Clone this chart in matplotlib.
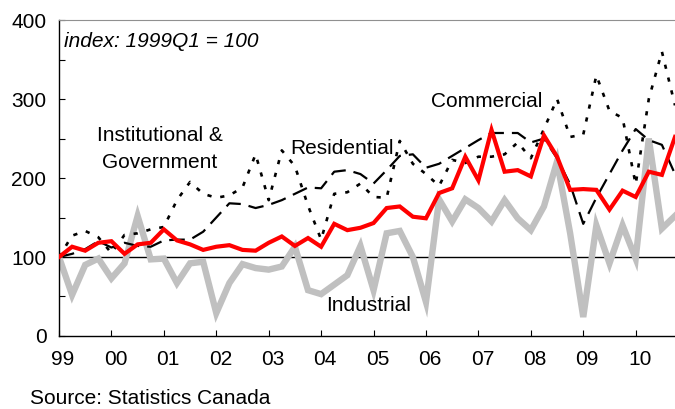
import matplotlib
matplotlib.use('Agg')
import matplotlib.pyplot as plt
import matplotlib.transforms as mtransforms
import numpy as np

plt.rcParams['font.family'] = ['Liberation Sans', 'DejaVu Sans']

# quarterly, 1999Q1 .. 2010Q4, index 1999Q1 = 100
years = ['99', '00', '01', '02', '03', '04', '05', '06', '07', '08', '09', '10']

total = [100, 113, 108, 118, 120, 104, 116, 118, 135, 121, 116, 109,
         113, 115, 109, 108, 118, 126, 114, 124, 113, 142, 134, 137,
         143, 162, 164, 151, 149, 181, 187, 227, 197, 261, 208, 210,
         202, 254, 227, 185, 186, 185, 160, 184, 176, 208, 204, 252]

industrial = [100, 52, 90, 98, 73, 92, 152, 97, 98, 67, 92, 94,
              29, 67, 91, 86, 84, 88, 113, 58, 53, 65, 77, 114,
              58, 130, 133, 100, 43, 173, 145, 173, 162, 145, 172, 149,
              134, 164, 221, 130, 24, 140, 92, 140, 98, 250, 136, 152]

institutional = [100, 127, 133, 125, 105, 128, 130, 135, 138, 172, 195, 180,
                 175, 178, 188, 230, 172, 235, 215, 165, 122, 180, 182, 193,
                 176, 175, 247, 218, 205, 190, 223, 219, 227, 227, 230, 245,
                 225, 262, 300, 252, 255, 330, 285, 276, 192, 300, 360, 292]

residential = [100, 104, 110, 120, 112, 118, 114, 113, 121, 122, 122, 132,
               150, 168, 167, 162, 166, 172, 180, 188, 187, 208, 210, 205,
               193, 210, 228, 230, 213, 218, 228, 238, 248, 257, 257, 257,
               245, 250, 225, 192, 142, 175, 205, 235, 262, 248, 242, 205]

x = np.arange(len(total))

fig = plt.figure(figsize=(6.75, 4.09), dpi=100)
ax = fig.add_axes([0.0874, 0.1785, 0.9126, 0.7725])

ax.axhline(100, color='black', lw=1.0, zorder=1)
ax.plot(x, industrial, color='#c0c0c0', lw=4.6, solid_joinstyle='miter', zorder=2)
ax.plot(x, institutional, color='black', lw=1.9, dashes=(1.6, 3.4), zorder=3)
ax.plot(x, residential, color='black', lw=1.6, dashes=(7, 3.6), zorder=3)
ax.plot(x, total, color='#ff0000', lw=3.0, solid_joinstyle='miter', zorder=4)

ax.set_xlim(0, len(total) - 1)
ax.set_ylim(0, 400)

ax.set_yticks([0, 100, 200, 300, 400])
ax.set_yticks(np.arange(0, 401, 50), minor=True)
ax.set_xticks(np.arange(0, len(total), 4))
ax.set_xticklabels(years)
ax.tick_params(axis='both', direction='in', length=4, width=0.8, labelsize=15)
ax.tick_params(axis='y', which='minor', direction='in', length=4, width=0.8)
ax.tick_params(axis='x', pad=10)
ax.tick_params(axis='y', pad=9)

# year labels sit a little right of their ticks
offset = mtransforms.ScaledTranslation(4 / 100, 0, fig.dpi_scale_trans)
for lbl in ax.get_xticklabels():
    lbl.set_transform(lbl.get_transform() + offset)

ax.spines['right'].set_visible(False)
ax.spines['top'].set_color('#909090')
ax.spines['left'].set_linewidth(1.0)
ax.spines['bottom'].set_linewidth(1.0)

fs = 15
ax.text(0.4, 373, 'index: 1999Q1 = 100', fontsize=fs, style='italic', va='center')
ax.text(7.7, 254, 'Institutional &', fontsize=fs, ha='center', va='center')
ax.text(7.7, 220, 'Government', fontsize=fs, ha='center', va='center')
ax.text(21.6, 238, 'Residential', fontsize=fs, ha='center', va='center')
ax.text(32.6, 297, 'Commercial', fontsize=fs, ha='center', va='center')
ax.text(23.6, 39, 'Industrial', fontsize=fs, ha='center', va='center')

fig.text(30 / 675, 1 - 398 / 409, 'Source: Statistics Canada', fontsize=15, va='center')

fig.savefig('out.png', dpi=100)
